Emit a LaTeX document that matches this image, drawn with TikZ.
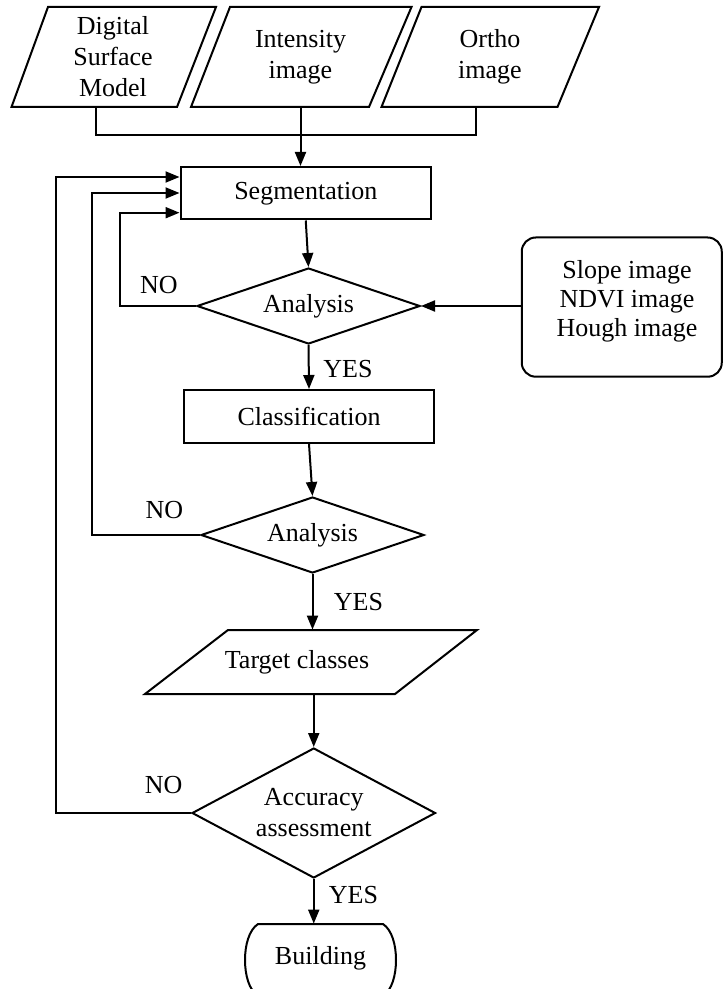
\documentclass[tikz,border=0pt]{standalone}
\usepackage{fontspec}
\setmainfont{Liberation Serif}
\usetikzlibrary{shapes.geometric,arrows.meta}
\begin{document}
\begin{tikzpicture}[x=0.5pt,y=-0.5pt,
  every node/.style={font=\fontsize{13}{15.5}\selectfont, align=center, inner sep=0pt},
  line/.style={line width=1pt},
  arr/.style={line width=1pt,-{Triangle[length=7pt,width=5.5pt]}},
  procbox/.style={draw, line width=1pt, rectangle},
  decision/.style={draw, line width=1pt, diamond},
  shapeline/.style={draw, line width=1pt, line join=miter}]
\useasboundingbox (0,0) rectangle (723,989);
\clip (0,0) rectangle (723,989);

% input parallelograms
\draw[shapeline] (11.5,107) -- (48,7) -- (216,7) -- (177,107) -- cycle;
\draw[shapeline] (191,107) -- (230,7) -- (411.5,7) -- (369,107) -- cycle;
\draw[shapeline] (381.5,107) -- (421.5,7) -- (599,7) -- (557.5,107) -- cycle;
\node[minimum height=50pt] (dsm) at (113,57) {Digital\\Surface\\Model};
\node[minimum height=50pt] (int) at (300.5,57) {Intensity\\image};
\node[minimum height=50pt] (ort) at (490,57) {Ortho\\image};

% process nodes
\node[procbox, minimum width=125.25pt, minimum height=26.25pt] (seg) at (305.75,193.25) {Segmentation};
\node[decision, aspect=2.93, minimum width=111.5pt, minimum height=38pt] (an1) at (308.5,306) {Analysis};
\node[procbox, minimum width=125pt, minimum height=26.5pt] (cls) at (309,416.5) {Classification};
\node[decision, aspect=2.93, minimum width=111.5pt, minimum height=38pt] (an2) at (312.5,535) {Analysis};

% target classes parallelogram
\draw[shapeline] (145,694) -- (228,630) -- (477,630) -- (395,694) -- cycle;
\node[minimum height=32pt] (tgt) at (297,662) {Target classes};

\node[decision, aspect=1.87, minimum width=121.75pt, minimum height=65pt] (acc) at (313.75,813) {Accuracy\\assessment};

% building terminator
\draw[shapeline] (258,924) -- (383,924) .. controls (392,930) and (396,945) .. (396,960)
  .. controls (396,975) and (392,990) .. (383,996) -- (258,996)
  .. controls (249,990) and (245,975) .. (245,960)
  .. controls (245,945) and (249,930) .. (258,924) -- cycle;
\node[minimum height=34pt] (bld) at (320.5,958) {Building};

% side box
\node[draw, line width=1pt, rounded corners=7pt, minimum width=100pt, minimum height=69.6pt] (side) at (621.75,307.1) {};
\node[font=\fontsize{13}{14.6}\selectfont] (sidetxt) at (627,301) {Slope image\\NDVI image\\Hough image};

% labels
\node (no1) at (159,285) {NO};
\node (yes1) at (348,369) {YES};
\node (no2) at (164.5,510) {NO};
\node (yes2) at (358.5,602) {YES};
\node (no3) at (163.6,785.5) {NO};
\node (yes3) at (353.5,895) {YES};

% connectors
\draw[line] (96,0 |- dsm.south) -- (96,135) -- (476,135) -- (476,0 |- ort.south);
\draw[arr] (int.south) -- (int.south |- seg.north);
\draw[arr] (seg.south) -- (an1.north);
\draw[arr] (an1.south) -- (cls.north);
\draw[arr] (cls.south) -- (an2.north);
\draw[arr] (an2.south) -- (an2.south |- tgt.north);
\draw[arr] (acc.north |- tgt.south) -- (acc.north);
\draw[arr] (acc.south) -- (acc.south |- bld.north);
\draw[arr] (side.west |- an1.east) -- (an1.east);

\draw[arr] (an1.west) -- (120,0 |- an1.west) -- (120,212.7) -- (seg.west |- 0,212.7);
\draw[arr] (an2.west) -- (92,0 |- an2.west) -- (92,193) -- (seg.west |- 0,193);
\draw[arr] (acc.west) -- (56,0 |- acc.west) -- (56,177) -- (seg.west |- 0,177);
\end{tikzpicture}
\end{document}
